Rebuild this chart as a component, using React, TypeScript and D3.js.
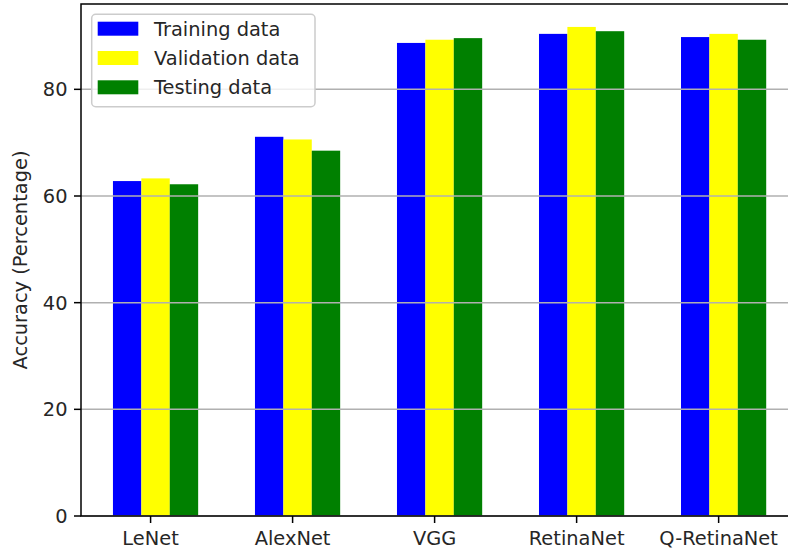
import React from "react";
import * as d3 from "d3";

const categories = ["LeNet", "AlexNet", "VGG", "RetinaNet", "Q-RetinaNet"];
const trainingData = [62.8, 71.1, 88.7, 90.4, 89.8];
const validationData = [63.3, 70.6, 89.3, 91.7, 90.4];
const testingData = [62.2, 68.5, 89.6, 90.9, 89.3];
const yTicks = [0, 20, 40, 60, 80];
const seriesNames = ["Training data", "Validation data", "Testing data"];
const seriesColors = ["#0000ff", "#ffff00", "#008000"];

const W = 788;
const H = 552;
const FONT = "'DejaVu Sans', sans-serif";
const FS = 19.4;

export default function App() {
  const series = [trainingData, validationData, testingData];
  const left = 81, top = 4, bottom = 516, right = 801;
  const x = d3.scaleLinear().domain([-0.49, 4.58]).range([left, right]);
  const y = d3.scaleLinear().domain([0, 96]).range([bottom, top]);
  const barW = 0.2;
  const offsets = [-0.265, -0.065, 0.135];

  return (
    <svg width={W} height={H} style={{ position: "absolute", left: 0, top: 0, background: "#fff" }} fontFamily={FONT}>
      <rect x={0} y={0} width={W} height={H} fill="#fff" />
      {series.map((vals, si) =>
        vals.map((v, ci) => (
          <rect
            key={`${si}-${ci}`}
            x={x(ci + offsets[si])}
            y={y(v)}
            width={x(barW) - x(0)}
            height={y(0) - y(v)}
            fill={seriesColors[si]}
          />
        ))
      )}
      {yTicks.map((t) => (
        <line key={`g${t}`} x1={left} x2={right} y1={y(t)} y2={y(t)} stroke="#b0b0b0" strokeWidth={1.5} />
      ))}
      {yTicks.map((t) => (
        <g key={`yt${t}`}>
          <line x1={left - 7} x2={left} y1={y(t)} y2={y(t)} stroke="#000" strokeWidth={1.5} />
          <text x={left - 13.5} y={y(t)} dy="0.36em" textAnchor="end" fontSize={FS} fill="#262626">
            {t}
          </text>
        </g>
      ))}
      {categories.map((c, i) => (
        <g key={`xt${c}`}>
          <line x1={x(i)} x2={x(i)} y1={bottom} y2={bottom + 7} stroke="#000" strokeWidth={1.5} />
          <text x={x(i)} y={bottom + 29} textAnchor="middle" fontSize={FS} fill="#262626">
            {c}
          </text>
        </g>
      ))}
      <rect x={left} y={top} width={right - left} height={bottom - top} fill="none" stroke="#000" strokeWidth={1.5} />
      <text
        transform={`translate(${27},${(top + bottom) / 2}) rotate(-90)`}
        textAnchor="middle"
        fontSize={FS}
        fill="#262626"
      >
        Accuracy (Percentage)
      </text>
      <g>
        <rect x={91.7} y={14.3} width={223.3} height={92.4} rx={4} ry={4} fill="#fff" fillOpacity={0.8} stroke="#cccccc" strokeWidth={1.5} />
        {seriesNames.map((n, i) => (
          <g key={n}>
            <rect x={97.7} y={21.7 + i * 29.3} width={40.6} height={14} fill={seriesColors[i]} />
            <text x={154} y={28.7 + i * 29.3} dy="0.36em" fontSize={FS} fill="#262626">
              {n}
            </text>
          </g>
        ))}
      </g>
    </svg>
  );
}
